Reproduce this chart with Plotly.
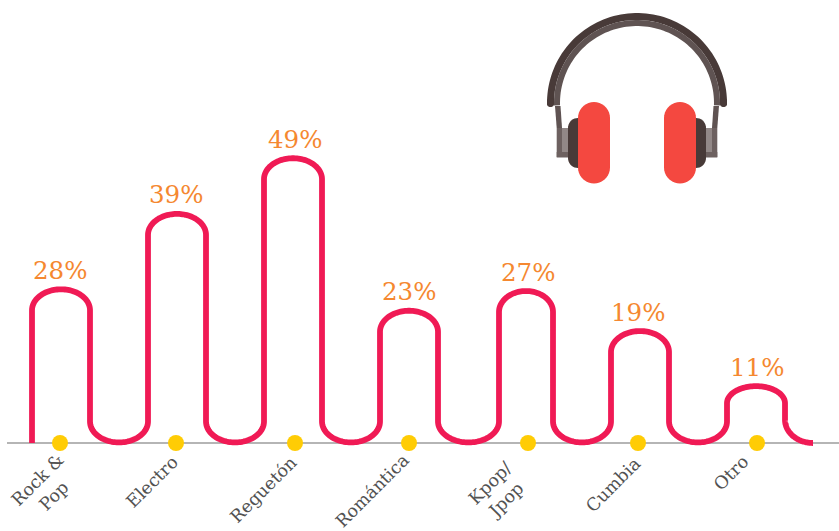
import numpy as np
import plotly.graph_objects as go

# ---------- data ----------
categories = ["Rock &<br>Pop", "Electro", "Reguetón", "Romántica", "Kpop/<br>Jpop", "Cumbia", "Otro"]
values = [28, 39, 49, 23, 27, 19, 11]
wave_heights = [26.5, 39.5, 49.1, 22.8, 26.2, 19.3, 9.8]

# ---------- layout constants (pixels of the 839x531 canvas) ----------
W, H = 839, 531
BASE_PX = 443
PX_PER_PCT = 5.8
dot_x = [60, 176, 295, 409, 528, 638, 757]
arch_left = [32, 148, 264, 380, 499, 611, 727]
arch_right = [90, 206, 322, 438, 553, 669, 785]
label_center = [(45, 488), (152, 482), (263, 490), (372, 491), (498, 491), (613, 485), (731, 473)]
RY = 21 / PX_PER_PCT
TAU = np.pi


def y_of(px):
    return (BASE_PX - px) / PX_PER_PCT


def arc(cx, cy, rx, ry, a0, a1, n=60):
    t = np.linspace(a0, a1, n)
    return cx + rx * np.cos(t), cy + ry * np.sin(t)


xs, ys = [np.array([arch_left[0]], float)], [np.array([0.0])]
bottom = 0.1
for i, h in enumerate(wave_heights):
    L, R = arch_left[i], arch_right[i]
    top_ry = min(RY, h * 0.3)
    ax, ay = arc((L + R) / 2, h - top_ry, (R - L) / 2, top_ry, TAU, 0)
    xs.append(ax); ys.append(ay)
    if i < len(wave_heights) - 1:
        nxt = arch_left[i + 1]
        vx, vy = arc((R + nxt) / 2, bottom + RY, (nxt - R) / 2, RY, TAU, 2 * TAU)
    else:
        vx, vy = arc(R + 28, 0 + RY + 0.4, 28, RY + 0.4, TAU, 1.5 * TAU)
    xs.append(vx); ys.append(vy)
wave_x = np.concatenate(xs)
wave_y = np.concatenate(ys)

fig = go.Figure()
fig.add_trace(go.Scatter(x=[7, W], y=[0, 0], mode="lines", line=dict(color="#b5b5b5", width=2), hoverinfo="skip"))
fig.add_trace(go.Scatter(x=wave_x, y=wave_y, mode="lines",
                         line=dict(color="#f01a55", width=5.8, simplify=False), hoverinfo="skip"))
fig.add_trace(go.Scatter(x=dot_x, y=[0] * len(dot_x), mode="markers",
                         marker=dict(color="#ffcc05", size=16, line=dict(width=0)), hoverinfo="skip"))

# percent labels
for x, h, v in zip(dot_x, wave_heights, values):
    fig.add_annotation(x=x, y=h, yshift=19, text=f"{v}%", showarrow=False, xanchor="center", yanchor="middle",
                       font=dict(family="DejaVu Serif", size=24.5, color="#f58830"))
# category labels
for (cx, cy), c in zip(label_center, categories):
    fig.add_annotation(x=cx, y=y_of(cy), text=c, showarrow=False, textangle=-45, xanchor="center", yanchor="middle",
                       align="center", font=dict(family="DejaVu Serif", size=17.5, color="#525252"))


# ---------- headphones ----------
def P(x, y):
    return f"{x / W:.5f} {1 - y / H:.5f}"


def poly(pts):
    return "M " + " L ".join(P(x, y) for x, y in pts) + " Z"


def rounded(x0, y0, x1, y1, r, n=10):
    pts = []
    for cx, cy, a in [(x1 - r, y0 + r, -TAU / 2), (x1 - r, y1 - r, 0), (x0 + r, y1 - r, TAU / 2), (x0 + r, y0 + r, TAU)]:
        t = np.linspace(a, a + TAU / 2, n)
        pts += list(zip(cx + r * np.cos(t), cy + r * np.sin(t)))
    return pts


def annulus(cx, cy, r0, r1, a0, a1, n=80):
    t = np.linspace(a0, a1, n)
    return list(zip(cx + r1 * np.cos(t), cy + r1 * np.sin(t))) + list(zip(cx + r0 * np.cos(t[::-1]), cy + r0 * np.sin(t[::-1])))


def shape(pts, color):
    fig.add_shape(type="path", path=poly(pts), xref="paper", yref="paper", fillcolor=color, line=dict(width=0), layer="above")


MID = 637
CY = 103


def both(pts, color):
    shape(pts, color)
    shape([(2 * MID - x, y) for x, y in pts], color)


both([(556.7, 128), (562, 128), (562, 157), (556.7, 157)], "#6d6160")
both([(562, 128), (570, 128), (570, 152), (562, 152)], "#928887")
both([(556.7, 152), (570, 152), (570, 157.5), (556.7, 157.5)], "#6d6160")
both([(555, 106), (560.5, 106), (562, 128), (556.7, 128)], "#5f5352")
shape(annulus(MID, CY, 77, 83, TAU - 0.03, 2 * TAU + 0.03), "#5f5352")
shape(annulus(MID, CY, 83, 90, TAU - 0.02, 2 * TAU + 0.02), "#483a38")
both(rounded(547, 98, 554, 107, 3), "#483a38")
both(rounded(568, 118, 592, 168, 10), "#483a38")
both(rounded(578, 102, 610, 183.5, 16), "#f44840")

fig.update_layout(
    width=W, height=H, margin=dict(l=0, r=0, t=0, b=0), paper_bgcolor="white", plot_bgcolor="white",
    showlegend=False,
    xaxis=dict(range=[0, W], visible=False, fixedrange=True),
    yaxis=dict(range=[y_of(H), y_of(0)], visible=False, fixedrange=True),
)
fig.write_html("out.html", config={"displayModeBar": False},
               post_script="document.body.style.margin='0';document.body.style.overflow='hidden';")
